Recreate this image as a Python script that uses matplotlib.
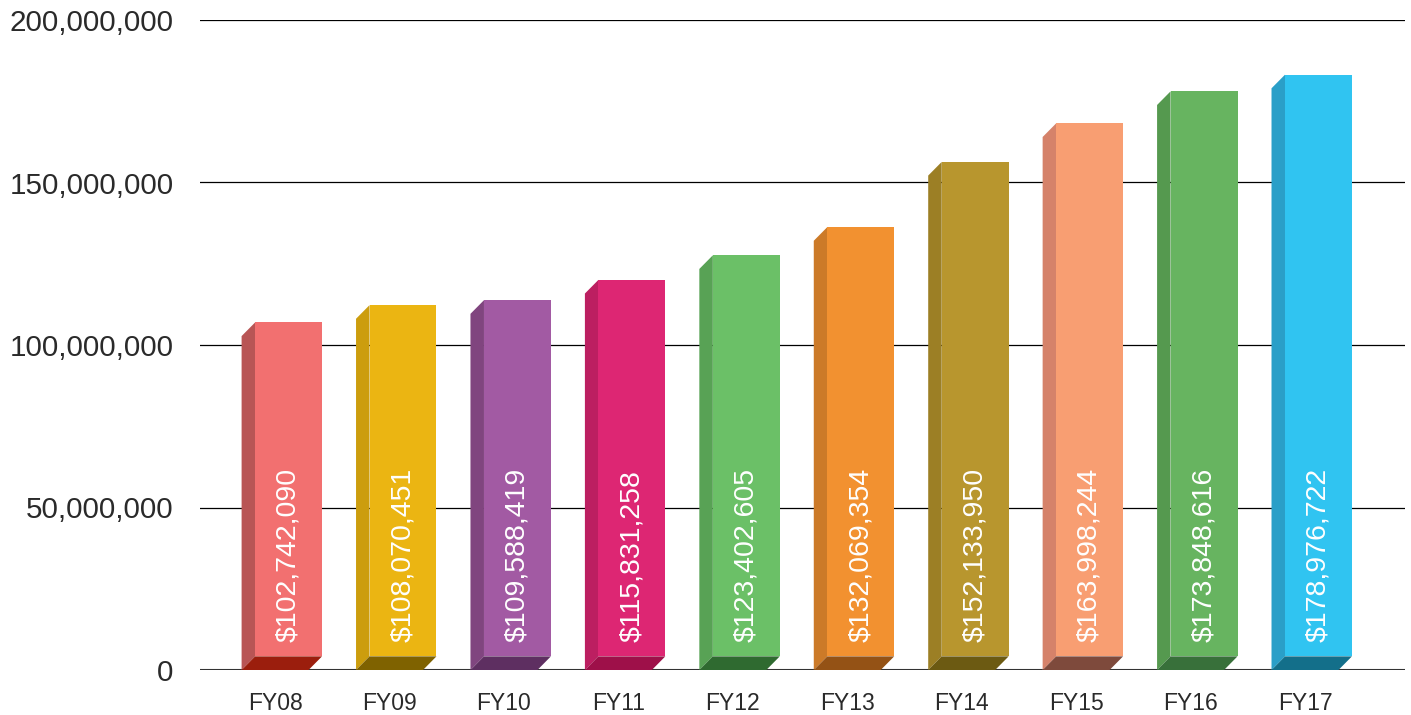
import matplotlib.pyplot as plt
from matplotlib.patches import Polygon
from matplotlib.ticker import FuncFormatter

# data
years = ['FY08', 'FY09', 'FY10', 'FY11', 'FY12', 'FY13', 'FY14', 'FY15', 'FY16', 'FY17']
values = [102742090, 108070451, 109588419, 115831258, 123402605,
          132069354, 152133950, 163998244, 173848616, 178976722]

# front / side / bottom colours per bar
front_colors = ['#F27070', '#EBB512', '#A25AA3', '#DD2673', '#6BC067',
                '#F29130', '#B8962E', '#F89E72', '#67B460', '#30C4F1']
side_colors = ['#B85555', '#CC9D0E', '#80457F', '#BC1F61', '#58A255',
               '#CC7A28', '#9C7F25', '#D5826A', '#55994F', '#2A9FC8']
bottom_colors = ['#9B1E0D', '#7F6200', '#5E2F61', '#9E1049', '#2F6A30',
                 '#945215', '#6C5A12', '#7E4A3C', '#38703A', '#136F8A']

W = 0.585      # bar width (axis units)
DX = 0.118     # depth offset in x
DY = 4.2e6     # depth offset in y

if __name__ == "__main__":
    fig = plt.figure(figsize=(14.11, 7.15), dpi=100)
    ax = fig.add_axes([200 / 1411, 1 - 670 / 715, 1205 / 1411, 650 / 715])

    for i, v in enumerate(values):
        xl = i - W / 2
        # side face
        ax.add_patch(Polygon([(xl, 0), (xl, v), (xl + DX, v + DY), (xl + DX, DY)],
                             closed=True, fc=side_colors[i], ec='none', zorder=3))
        # bottom face
        ax.add_patch(Polygon([(xl, 0), (xl + W, 0), (xl + W + DX, DY), (xl + DX, DY)],
                             closed=True, fc=bottom_colors[i], ec='none', zorder=3))
        # front face
        ax.add_patch(Polygon([(xl + DX, DY), (xl + DX + W, DY), (xl + DX + W, v + DY),
                              (xl + DX, v + DY)],
                             closed=True, fc=front_colors[i], ec='none', zorder=3))
        # value label
        ax.text(i + DX, 8.6e6, '${:,}'.format(v), rotation=90, ha='center', va='bottom',
                color='white', fontsize=20.5, family='Liberation Sans', zorder=4)

    ax.set_xlim(-0.656, 9.874)
    ax.set_ylim(0, 200e6)
    ax.set_yticks([0, 50e6, 100e6, 150e6, 200e6])
    ax.yaxis.set_major_formatter(FuncFormatter(lambda y, p: '{:,.0f}'.format(y)))
    ax.set_xticks(range(len(years)))
    ax.set_xticklabels(years)

    ax.grid(axis='y', color='black', linewidth=0.9, zorder=0)
    ax.set_axisbelow(True)
    for s in ax.spines.values():
        s.set_visible(False)
    ax.axhline(0, color='#333333', linewidth=1.5, zorder=2)

    ax.tick_params(axis='both', length=0)
    ax.tick_params(axis='y', pad=19)
    ax.tick_params(axis='x', pad=16)
    for t in ax.get_yticklabels():
        t.set_fontfamily('Liberation Sans')
        t.set_fontsize(21.3)
        t.set_color('#2a2a2a')
    for t in ax.get_xticklabels():
        t.set_fontfamily('Liberation Sans')
        t.set_fontsize(16.5)
        t.set_color('#2a2a2a')

    fig.savefig('out.png', dpi=100)
